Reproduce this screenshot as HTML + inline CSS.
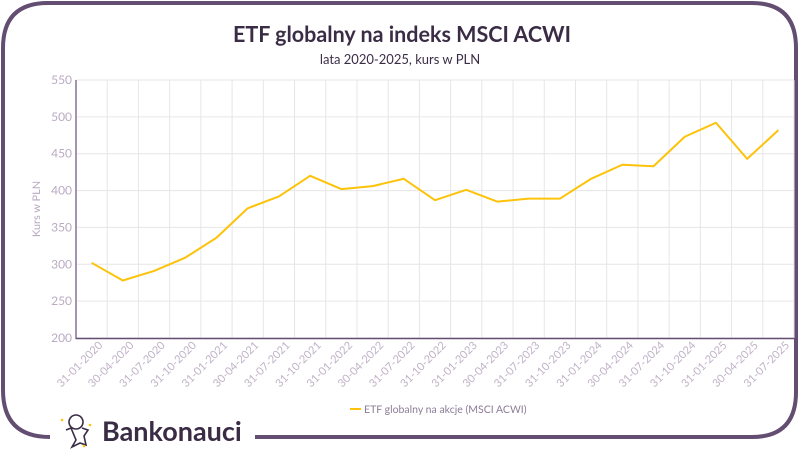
<!DOCTYPE html>
<html><head><meta charset="utf-8">
<style>
html,body{margin:0;padding:0;background:#fff;}
body{width:800px;height:450px;overflow:hidden;font-family:"Lato","Liberation Sans",sans-serif;}
</style></head>
<body>
<svg id="chart" width="800" height="450" xmlns="http://www.w3.org/2000/svg">
  <path d="M50,437 Q3,437 3,390 L3,48 Q3,3 48,3 L752,3 Q796,3 796,48 L796,392 Q796,437 752,437 L255,437" fill="none" stroke="#634e72" stroke-width="4"/>
  <text x="402" y="42" text-anchor="middle" font-size="21.5" font-weight="bold" fill="#3a2c45">ETF globalny na indeks MSCI ACWI</text>
  <text x="400" y="64" text-anchor="middle" font-size="13" fill="#3a2c45">lata 2020-2025, kurs w PLN</text>
  <g id="grid"></g>
  <g id="yticks"></g>
  <g id="xticks"></g>
  <text transform="translate(40,209) rotate(-90)" text-anchor="middle" font-size="11" fill="#b9a9c2">Kurs w PLN</text>
  <polyline id="line" fill="none" stroke="#fcc30a" stroke-width="2" stroke-linejoin="round"/>
  <line x1="76" y1="80" x2="76" y2="339" stroke="#8b6f97" stroke-width="1.5"/>
  <line x1="76" y1="338.5" x2="794" y2="338.5" stroke="#634e72" stroke-width="1.5"/>
  <g>
    <line x1="350" y1="409" x2="361" y2="409" stroke="#fcc30a" stroke-width="2"/>
    <text x="364" y="413" font-size="10.5" fill="#8d7c96">ETF globalny na akcje (MSCI ACWI)</text>
  </g>
  <g>
    <g fill="none" stroke="#3a2c45" stroke-width="1.6">
      <circle cx="76" cy="422" r="7"/>
      <path d="M66,430 L71,428 L76,440 L72,447 L80,443 L86,445 L84,436 L88,430 L82,428"/>
      <circle cx="62" cy="420" r="1.3" fill="#fcc30a" stroke="none"/>
      <circle cx="90" cy="425" r="1.3" fill="#fcc30a" stroke="none"/>
      <circle cx="84" cy="446" r="1.3" fill="#fcc30a" stroke="none"/>
    </g>
    <text x="102" y="441" font-size="27" font-weight="bold" fill="#3a2c45">Bankonauci</text>
  </g>
</svg>
<script>
const categories=["31-01-2020","30-04-2020","31-07-2020","31-10-2020","31-01-2021","30-04-2021","31-07-2021","31-10-2021","31-01-2022","30-04-2022","31-07-2022","31-10-2022","31-01-2023","30-04-2023","31-07-2023","31-10-2023","31-01-2024","30-04-2024","31-07-2024","31-10-2024","31-01-2025","30-04-2025","31-07-2025"];
const values=[302,278,291,309,336,376,392,420,402,406,416,387,401,385,389,389,416,435,433,473,492,443,482];
const yTicks=[200,250,300,350,400,450,500,550];
const NS="http://www.w3.org/2000/svg";
const X0=76,X1=794,Y0=338,Y1=80,YMIN=200,YMAX=550;
const bw=(X1-X0)/categories.length;
function xs(i){return X0+bw*(i+0.5);}
function ys(v){return Y0-(v-YMIN)/(YMAX-YMIN)*(Y0-Y1);}
function mk(t,a,p){const e=document.createElementNS(NS,t);for(const k in a)e.setAttribute(k,a[k]);p.appendChild(e);return e;}
const grid=document.getElementById('grid'),yt=document.getElementById('yticks'),xt=document.getElementById('xticks');
yTicks.forEach(v=>{
  const l=mk('line',{x1:X0,x2:X1,y1:ys(v),y2:ys(v),stroke:'#e6e6e6','stroke-width':1},grid);
  
  
  const t=mk('text',{x:X0-4,y:ys(v)+4,'text-anchor':'end','font-size':12,fill:'#b9a9c2'},yt);
  t.textContent=v;
  
  
});
for(let i=1;i<=categories.length;i++){
  const x=X0+bw*i;
  const l=mk('line',{x1:x,x2:x,y1:Y1,y2:Y0,stroke:'#e6e6e6','stroke-width':1},grid);
  
  
}
categories.forEach((c,i)=>{
  const x=X0+bw*(i+1)-4;
  const t=mk('text',{x:x,y:Y0+8,'text-anchor':'end','font-size':11,fill:'#c0b2c8',transform:`rotate(-45 ${x} ${Y0+8})`},xt);
  t.textContent=c+' ';
  
  
});
document.getElementById('line').setAttribute('points',values.map((v,i)=>xs(i)+','+ys(v)).join(' '));
</script>
</body></html>
